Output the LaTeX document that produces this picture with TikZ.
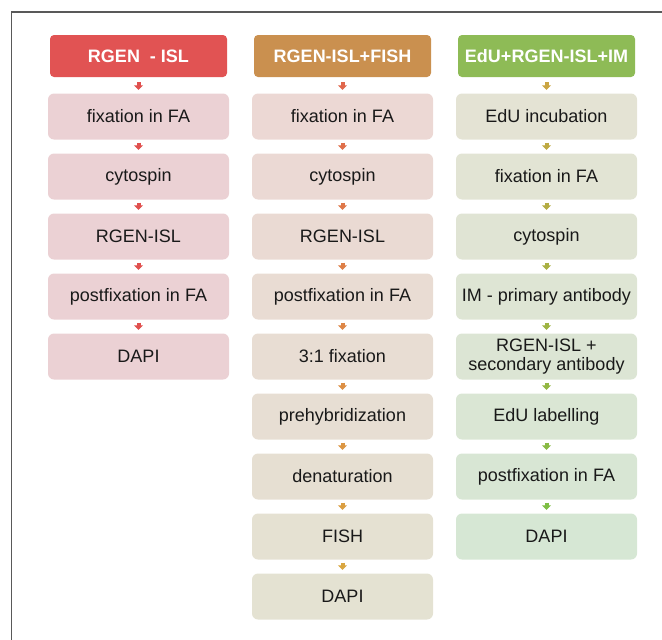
\documentclass[tikz,border=0pt]{standalone}
\usepackage{fontspec}
\setmainfont{Liberation Sans}
\usetikzlibrary{positioning,arrows.meta}

\definecolor{headA}{HTML}{E15353}
\definecolor{headB}{HTML}{CA904F}
\definecolor{headC}{HTML}{8EBB56}
\definecolor{boxA}{HTML}{EBD1D4}
\definecolor{boxBtop}{HTML}{ECD8D4}
\definecolor{boxBbot}{HTML}{E4E2D2}
\definecolor{boxCtop}{HTML}{E4E3D4}
\definecolor{boxCbot}{HTML}{D6E7D4}
\definecolor{arrA}{HTML}{E0504E}
\definecolor{arrBtop}{HTML}{E0674C}
\definecolor{arrBbot}{HTML}{D9A640}
\definecolor{arrCtop}{HTML}{CAA542}
\definecolor{arrCbot}{HTML}{7EBE44}

\begin{document}
\begin{tikzpicture}[x=1pt,y=-1pt,
    head/.style={rounded corners=4pt, minimum width=177pt, minimum height=42pt,
      text=white, font=\bfseries\fontsize{18}{20}\selectfont},
    stepbox/.style={rounded corners=6pt, minimum width=181pt, minimum height=46pt,
      text=black!90, align=center, font=\fontsize{18}{19.5}\selectfont},
    link/.style={line width=4pt, -{Triangle[width=9pt,length=4.5pt]},
      shorten <=3pt, shorten >=3.5pt}]
  \useasboundingbox (0,0) rectangle (662,640);
  % frame
  \draw[black!65, line width=1.5pt] (11.5,640) -- (11.5,12) -- (662,12);

  % RGEN - ISL
  \node[head, fill=headA] (h1) at (138.5,56) {RGEN\ \ - ISL};
  \foreach \txt [count=\i] in {fixation in FA, cytospin, RGEN-ISL,
      postfixation in FA, DAPI}
    \node[stepbox, fill=boxA] (a\i) at (138.5,{56.5+60*\i}) {\txt};
  \draw[link, arrA, shorten <=5pt] (h1) -- (a1);
  \foreach \i [evaluate=\i as \j using int(\i+1)] in {1,...,4}
    \draw[link, arrA] (a\i) -- (a\j);

  % RGEN-ISL+FISH
  \node[head, fill=headB] (h2) at (342.5,56) {RGEN-ISL+FISH};
  \foreach \txt [count=\i] in {fixation in FA, cytospin, RGEN-ISL,
      postfixation in FA, 3:1 fixation, prehybridization, denaturation,
      FISH, DAPI} {
    \pgfmathtruncatemacro\p{100-12.5*(\i-1)}
    \node[stepbox, fill=boxBtop!\p!boxBbot] (b\i) at (342.5,{56.5+60*\i}) {\txt};
  }
  \draw[link, arrBtop, shorten <=5pt] (h2) -- (b1);
  \foreach \i [evaluate=\i as \j using int(\i+1)] in {1,...,8} {
    \pgfmathtruncatemacro\p{100-12.5*\i}
    \draw[link, arrBtop!\p!arrBbot] (b\i) -- (b\j);
  }

  % EdU+RGEN-ISL+IM
  \node[head, fill=headC] (h3) at (546.5,56) {EdU+RGEN-ISL+IM};
  \foreach \txt [count=\i] in {EdU\ incubation, fixation in FA, cytospin,
      IM - primary antibody, {RGEN-ISL +\\secondary antibody},
      EdU\ labelling, postfixation in FA, DAPI} {
    \pgfmathtruncatemacro\p{100-100*(\i-1)/7}
    \node[stepbox, fill=boxCtop!\p!boxCbot] (c\i) at (546.5,{56.5+60*\i}) {\txt};
  }
  \draw[link, arrCtop, shorten <=5pt] (h3) -- (c1);
  \foreach \i [evaluate=\i as \j using int(\i+1)] in {1,...,7} {
    \pgfmathtruncatemacro\p{100-100*\i/7}
    \draw[link, arrCtop!\p!arrCbot] (c\i) -- (c\j);
  }
\end{tikzpicture}
\end{document}
